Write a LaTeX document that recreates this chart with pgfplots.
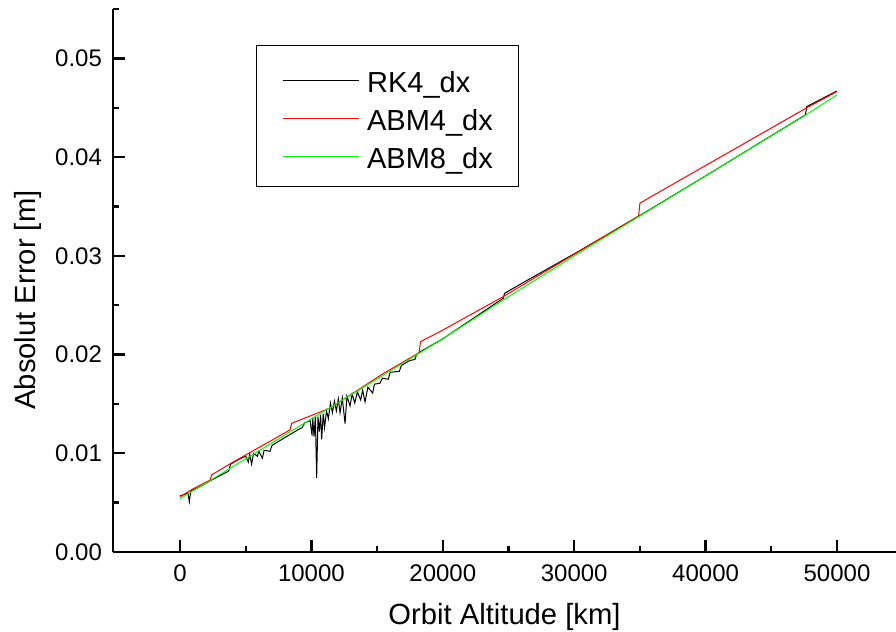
\documentclass[border=0pt]{standalone}
\usepackage{fontspec}
\setmainfont{Liberation Sans}
\usepackage{pgfplots}
\pgfplotsset{compat=1.18}
\begin{document}
\begin{tikzpicture}
\useasboundingbox (-56.5pt,-40pt) rectangle (391.5pt,276pt);
\begin{axis}[
  at={(0pt,0pt)}, anchor=south west,
  scale only axis, width=391.5pt, height=271.5pt,
  xmin=-5100, xmax=54490, ymin=0, ymax=0.055,
  axis x line=bottom, axis y line=left,
  axis line style={-, line width=1.2pt},
  every tick/.style={black, line width=1.2pt},
  tick align=inside,
  major tick length=6pt, minor tick length=3pt,
  xtick={0,10000,20000,30000,40000,50000},
  minor xtick={5000,15000,25000,35000,45000},
  ytick={0,0.01,0.02,0.03,0.04,0.05},
  minor ytick={0.005,0.015,0.025,0.035,0.045,0.055},
  scaled y ticks=false, scaled x ticks=false,
  /pgf/number format/assume math mode=true,
  x tick label style={/pgf/number format/1000 sep={}, font=\fontsize{12}{14}\selectfont, yshift=-3pt},
  y tick label style={/pgf/number format/fixed, /pgf/number format/fixed zerofill, /pgf/number format/precision=2, font=\fontsize{12}{14}\selectfont, xshift=-2pt},
  xlabel={Orbit Altitude [km]},
  ylabel={Absolut Error [m]},
  label style={font=\fontsize{14.6}{17}\selectfont},
  xlabel style={at={(axis description cs:0.5,-0.1344)}, anchor=base},
  ylabel style={at={(axis description cs:-0.0996,0.464)}, anchor=base},
  legend style={at={(axis description cs:0.18263,0.9337)}, anchor=north west,
    draw=black, line width=0.6pt, fill=white,
    inner xsep=12.75pt, inner ysep=9.2pt, row sep=5pt,
    font=\fontsize{14.5}{16}\selectfont,
    nodes={inner sep=0pt, text height=14pt, text depth=0pt},
    /tikz/every odd column/.append style={column sep=4pt}},
  legend cell align=left,
  legend image code/.code={\draw[#1] (0pt,-1.2pt) -- (38pt,-1.2pt);},
]
% RK4_dx
\addplot[black, line width=0.5pt] coordinates {
(0,0.0057) (300,0.0058) (600,0.0060) (710,0.0051) (820,0.0062) (1500,0.0066)
(2400,0.0073) (3000,0.0077) (3700,0.0082) (3850,0.0089) (4500,0.0094) (5000,0.0097)
(5200,0.0091) (5300,0.0099) (5450,0.0089) (5600,0.0100) (5890,0.0097) (6000,0.0102)
(6270,0.0095) (6400,0.0103) (6850,0.0102) (7000,0.0108) (8000,0.0116) (9000,0.0124)
(9300,0.0126) (9500,0.0131) (9900,0.0133) (10050,0.0118) (10100,0.0136) (10200,0.0117)
(10300,0.0137) (10400,0.0075) (10500,0.0137) (10600,0.0122) (10700,0.0139) (10780,0.0114)
(10900,0.0140) (11000,0.0126) (11150,0.0143) (11290,0.0135) (11450,0.0151) (11600,0.0141)
(11750,0.0153) (11900,0.0143) (12050,0.0155) (12180,0.0141) (12350,0.0156) (12560,0.0130)
(12700,0.0158) (12940,0.0148) (13100,0.0160) (13300,0.0151) (13500,0.0162) (13750,0.0154)
(13900,0.0164) (14080,0.0152) (14300,0.0167) (14660,0.0161) (14800,0.0170) (15220,0.0171)
(15400,0.0176) (15850,0.0175) (16000,0.0182) (16690,0.0183) (16850,0.0189) (17500,0.0194)
(17880,0.0195) (18000,0.0200) (18300,0.0203) (20000,0.0216) (24600,0.0257) (24700,0.0262)
(26000,0.0272) (30000,0.0302) (34900,0.0340) (40000,0.0381) (47600,0.04428) (47700,0.04512)
(50000,0.0467)
};
\addlegendentry{RK4\_dx}
% ABM4_dx
\addplot[red, line width=0.5pt] coordinates {
(0,0.0056) (1000,0.0064) (2300,0.0073) (2400,0.0078) (3900,0.0090) (8370,0.01236)
(8500,0.01304) (11400,0.01456) (15500,0.0181) (18200,0.02019) (18300,0.02131)
(19790,0.02232) (24600,0.02587) (34900,0.03404) (35000,0.03533) (35770,0.03593)
(47640,0.04495) (50000,0.04664)
};
\addlegendentry{ABM4\_dx}
% ABM8_dx
\addplot[green, line width=0.5pt] coordinates {
(0,0.0054) (5000,0.00944) (10000,0.01348) (15000,0.01752) (20000,0.0216)
(24600,0.02553) (30000,0.02999) (34930,0.03398) (40000,0.0381) (47640,0.04428)
(50000,0.0463)
};
\addlegendentry{ABM8\_dx}
\end{axis}
\end{tikzpicture}
\end{document}
